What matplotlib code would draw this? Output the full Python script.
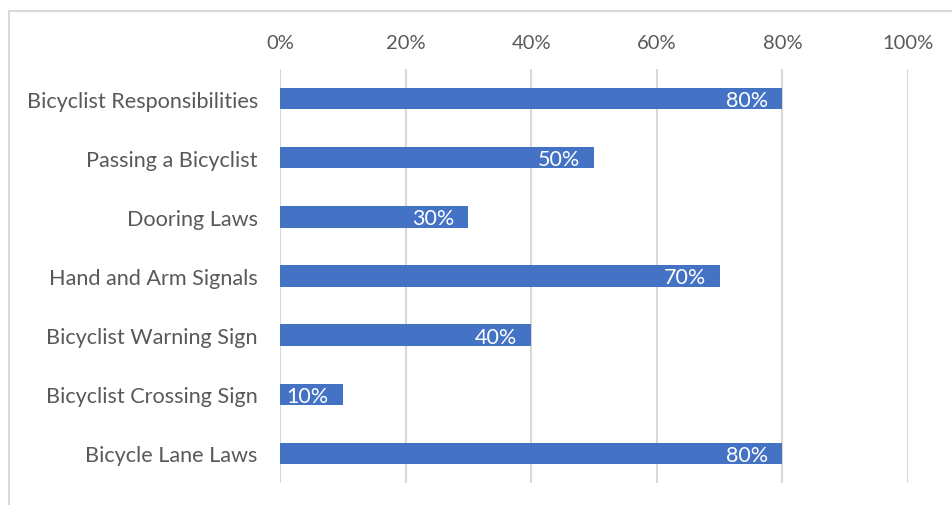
import matplotlib.pyplot as plt
from matplotlib.lines import Line2D

# survey topics, top to bottom
topics = ['Bicyclist Responsibilities', 'Passing a Bicyclist', 'Dooring Laws',
          'Hand and Arm Signals', 'Bicyclist Warning Sign',
          'Bicyclist Crossing Sign', 'Bicycle Lane Laws']
shares = [80, 50, 30, 70, 40, 10, 80]
ticks = [0, 20, 40, 60, 80, 100]

plt.rcParams['font.family'] = ['Lato', 'DejaVu Sans']
text_col = '#595959'
grid_col = '#D9D9D9'
bar_col = '#4472C4'

fig = plt.figure(figsize=(9.52, 5.06), dpi=100)
ax = fig.add_axes([280 / 952, 1 - 484 / 506, 628 / 952, 414 / 506])

ypos = list(range(len(topics)))
bars = ax.barh(ypos, shares, height=0.36, color=bar_col, zorder=3)

# value labels inside the bar ends
for y, v in zip(ypos, shares):
    ax.annotate(f'{v}%', (v, y), xytext=(-10, -1), textcoords='offset points',
                ha='right', va='center', color='white', fontsize=15.5, zorder=4)

ax.set_xlim(0, 100)
ax.set_ylim(len(topics) - 0.5, -0.5)
ax.set_xticks(ticks)
ax.set_xticklabels([f'{t}%' for t in ticks])
ax.set_yticks(ypos)
ax.set_yticklabels(topics)
ax.xaxis.tick_top()
ax.tick_params(axis='x', length=0, pad=13, labelsize=14.5, labelcolor=text_col)
ax.tick_params(axis='y', length=0, pad=16, labelsize=15.6, labelcolor=text_col)
ax.grid(axis='x', color=grid_col, linewidth=1.5, zorder=0)
for s in ax.spines.values():
    s.set_visible(False)

# outer chart border (left and top edges)
x0, y0 = 9 / 952, 1 - 12 / 506
fig.add_artist(Line2D([x0, x0], [0, y0], color=grid_col, linewidth=1.5))
fig.add_artist(Line2D([x0, 1], [y0, y0], color=grid_col, linewidth=1.5))

fig.savefig('out.png', dpi=100, facecolor='white')
